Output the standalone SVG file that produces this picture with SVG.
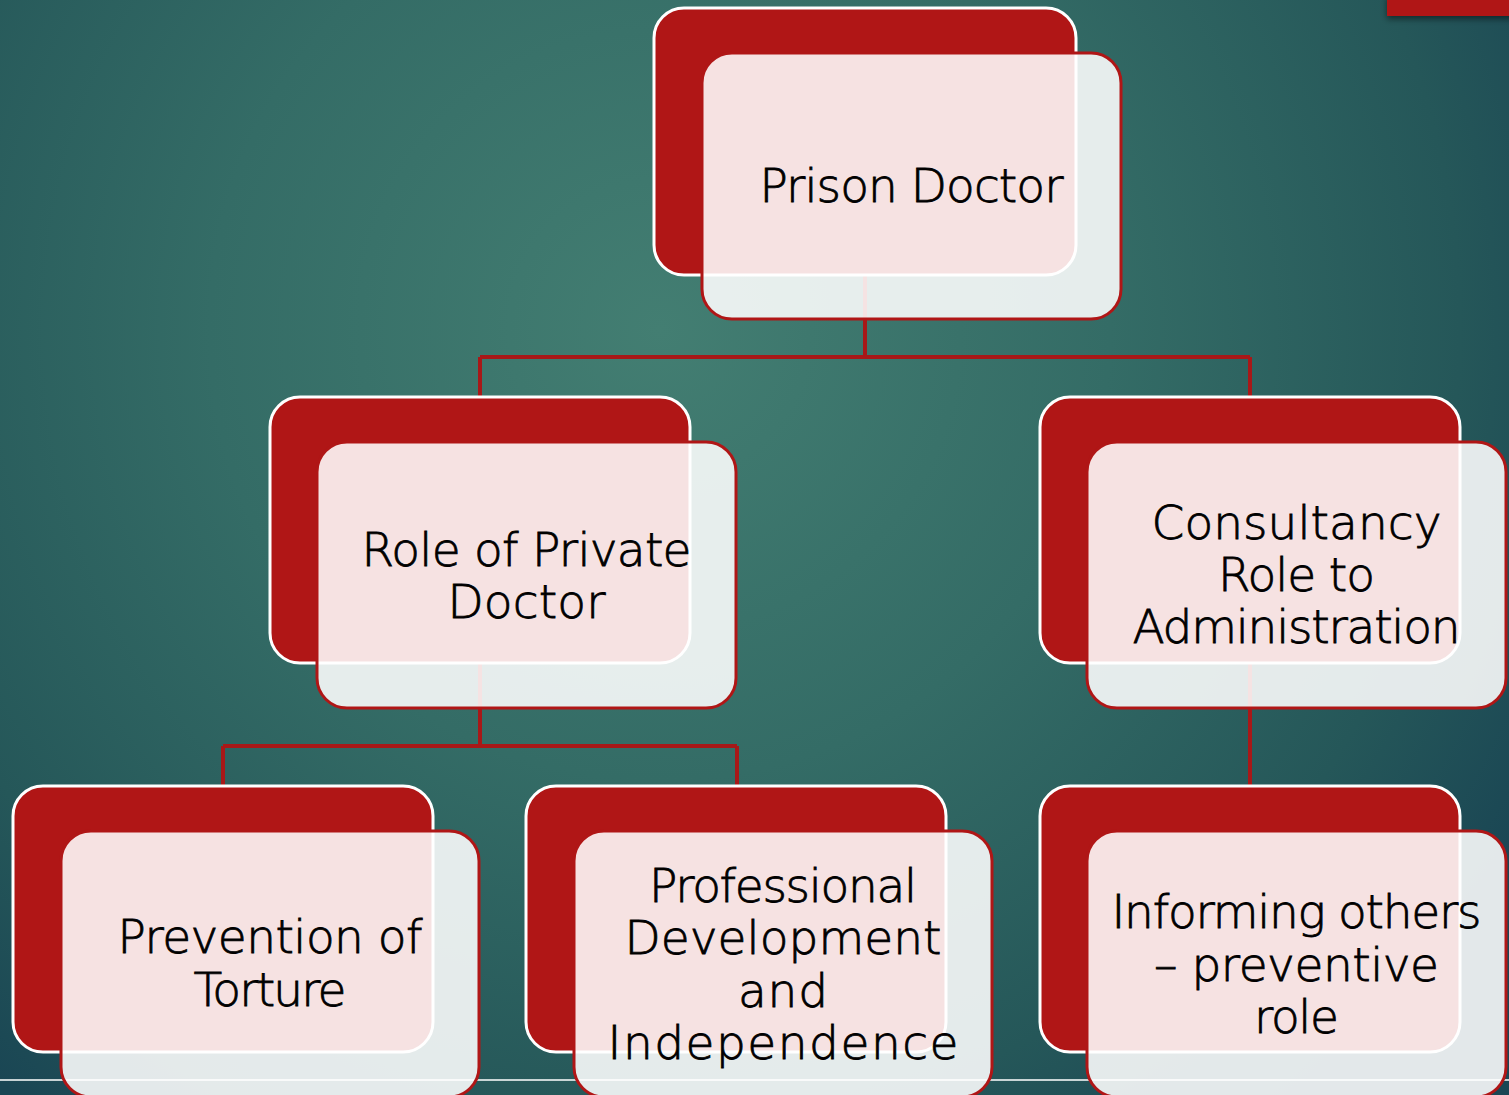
<svg xmlns="http://www.w3.org/2000/svg" width="1509" height="1095" viewBox="0 0 1509 1095">
  <defs>
    <radialGradient id="bg" cx="660" cy="330" r="1000" gradientUnits="userSpaceOnUse">
      <stop offset="0" stop-color="#437e72"/>
      <stop offset="0.45" stop-color="#346c66"/>
      <stop offset="0.8" stop-color="#255759"/>
      <stop offset="1" stop-color="#1a4654"/>
    </radialGradient>
    <filter id="shadow" x="-20%" y="-50%" width="140%" height="250%">
      <feDropShadow dx="0" dy="3" stdDeviation="3" flood-color="#000" flood-opacity="0.5"/>
    </filter>
    <style>
      .back { fill: #b01616; stroke: #ffffff; stroke-width: 3; }
      .front { fill: #ffffff; fill-opacity: 0.88; stroke: #b01616; stroke-width: 3; }
      .wire { fill: none; stroke: #a81818; stroke-width: 4; }
      .label { font-family: "DejaVu Sans", "Liberation Sans", sans-serif; font-weight: 200; font-size: 47px; fill: #000000; stroke: #000000; stroke-width: 0.8; text-anchor: middle; }
    </style>
  </defs>

  <!-- slide background -->
  <rect x="0" y="0" width="1509" height="1095" fill="url(#bg)"/>
  <rect x="1387" y="-5" width="130" height="21" fill="#b01616" filter="url(#shadow)"/>
  <line x1="0" y1="1080" x2="1509" y2="1080" stroke="#e6ecec" stroke-width="2" opacity="0.85"/>

  <!-- connectors -->
  <g id="connectors">
    <path class="wire" d="M865 270 V357 M480 357 H1250 M480 357 V397 M1250 357 V397"/>
    <path class="wire" d="M480 660 V746 M223 746 H737 M223 746 V786 M737 746 V786"/>
    <path class="wire" d="M1250 660 V786"/>
  </g>

  <!-- hierarchy nodes -->
  <g id="node-prison-doctor">
    <rect class="back" x="654" y="8" width="422" height="267" rx="30"/>
    <rect class="front" x="702" y="53" width="419" height="266" rx="30"/>
    <text class="label" x="911.5" y="202" textLength="304" lengthAdjust="spacing">Prison Doctor</text>
  </g>

  <g id="node-private-doctor">
    <rect class="back" x="270" y="397" width="420" height="266" rx="30"/>
    <rect class="front" x="317" y="442" width="419" height="266" rx="30"/>
    <text class="label" x="526.5" y="566" textLength="330" lengthAdjust="spacing">Role of Private</text>
    <text class="label" x="526.5" y="618" textLength="158" lengthAdjust="spacing">Doctor</text>
  </g>

  <g id="node-consultancy">
    <rect class="back" x="1040" y="397" width="420" height="266" rx="30"/>
    <rect class="front" x="1087" y="442" width="419" height="266" rx="30"/>
    <text class="label" x="1296.5" y="539" textLength="290" lengthAdjust="spacing">Consultancy</text>
    <text class="label" x="1296.5" y="591" textLength="157" lengthAdjust="spacing">Role to</text>
    <text class="label" x="1296.5" y="643" textLength="328" lengthAdjust="spacing">Administration</text>
  </g>

  <g id="node-prevention">
    <rect class="back" x="13" y="786" width="420" height="266" rx="30"/>
    <rect class="front" x="61" y="831" width="418" height="266" rx="30"/>
    <text class="label" x="270" y="953" textLength="305" lengthAdjust="spacing">Prevention of</text>
    <text class="label" x="270" y="1006" textLength="153" lengthAdjust="spacing">Torture</text>
  </g>

  <g id="node-professional">
    <rect class="back" x="526" y="786" width="420" height="266" rx="30"/>
    <rect class="front" x="574" y="831" width="418" height="266" rx="30"/>
    <text class="label" x="783" y="902" textLength="268" lengthAdjust="spacing">Professional</text>
    <text class="label" x="783" y="954" textLength="317" lengthAdjust="spacing">Development</text>
    <text class="label" x="783" y="1007" textLength="90" lengthAdjust="spacing">and</text>
    <text class="label" x="783" y="1059" textLength="351" lengthAdjust="spacing">Independence</text>
  </g>

  <g id="node-informing">
    <rect class="back" x="1040" y="786" width="420" height="266" rx="30"/>
    <rect class="front" x="1087" y="831" width="419" height="266" rx="30"/>
    <text class="label" x="1296.5" y="928" textLength="370" lengthAdjust="spacing">Informing others</text>
    <text class="label" x="1296.5" y="981" textLength="285" lengthAdjust="spacing">– preventive</text>
    <text class="label" x="1296.5" y="1033" textLength="85" lengthAdjust="spacing">role</text>
  </g>
</svg>
